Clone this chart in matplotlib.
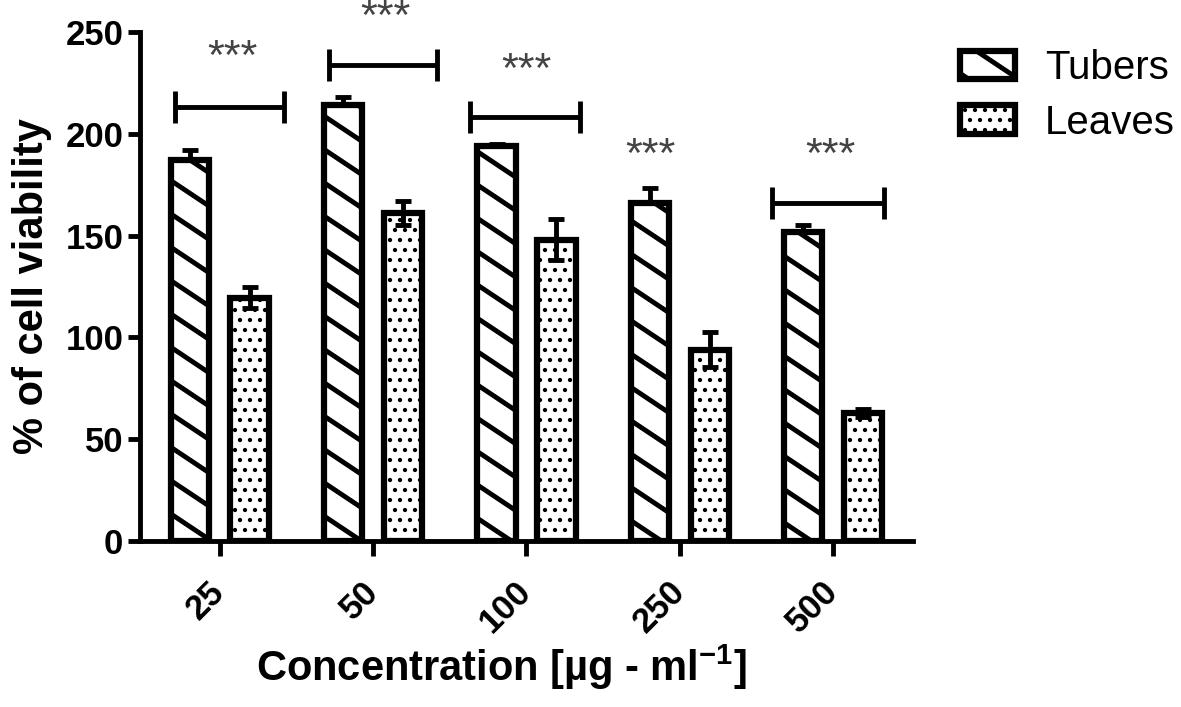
import matplotlib
matplotlib.use('Agg')
import matplotlib.pyplot as plt
import numpy
from matplotlib.backend_bases import GraphicsContextBase
from matplotlib.path import Path

# data
conc = ['25', '50', '100', '250', '500']
tubers = [187, 214, 194, 166, 152]
tubers_err = [5, 4, 1, 7.5, 3]
leaves = [119.5, 161, 148, 94, 63]
leaves_err = [5, 6, 10, 8.5, 2]

# significance brackets (left/right extent relative to group tick) and star heights
sig_bracket_y = [213, 234, 208, None, 166]
sig_left = [0.29, 0.29, 0.37, 0, 0.40]
sig_right = [0.42, 0.42, 0.35, 0, 0.33]
sig_star_y = [237, 257, 231, 189, 189]
sig_star_dx = [0.08, 0.08, 0.0, -0.19, -0.02]


# GraphPad-like sparse stripes: 3 lines per hatch tile, slope -2/3
stripe_verts = []
stripe_codes = []
for c in numpy.arange(-1, 7) / 3.0:
    stripe_verts += [(0.0, c), (1.0, c - 2.0 / 3.0)]
    stripe_codes += [Path.MOVETO, Path.LINETO]
stripe_path = Path(stripe_verts, stripe_codes)


def sparse_hatch(self, density=6.0):
    h = self.get_hatch()
    if h is None:
        return None
    if h == '\\':
        return stripe_path
    return Path.hatch(h, 5.0)


def hatch_lw(self):
    if self._hatch == '\\':
        return 3.5
    return 1.6


GraphicsContextBase.get_hatch_path = sparse_hatch
GraphicsContextBase.get_hatch_linewidth = hatch_lw

plt.rcParams['font.family'] = ['Liberation Sans', 'DejaVu Sans']
plt.rcParams['mathtext.fontset'] = 'custom'
plt.rcParams['mathtext.bf'] = 'Liberation Sans:bold'
plt.rcParams['mathtext.rm'] = 'Liberation Sans:bold'

fig = plt.figure(figsize=(11.81, 7.07), dpi=100)
ax = fig.add_axes([0.1185, 0.2348, 0.6545, 0.72])

x = numpy.arange(len(conc))
w = 0.25
off = 0.195

b1 = ax.bar(x - off, tubers, w, color='white', edgecolor='black', linewidth=4.5,
            hatch='\\', label='Tubers', zorder=2)
b2 = ax.bar(x + off, leaves, w, color='white', edgecolor='black', linewidth=4.5,
            hatch='..', label='Leaves', zorder=2)

ax.errorbar(x - off, tubers, yerr=[numpy.zeros(len(tubers)), tubers_err], fmt='none',
            ecolor='black', elinewidth=3.5, capsize=6, capthick=3.5, zorder=1)
ax.errorbar(x + off, leaves, yerr=leaves_err, fmt='none',
            ecolor='black', elinewidth=3.5, capsize=6, capthick=3.5, zorder=3)

for i in range(len(conc)):
    if sig_bracket_y[i] is not None:
        ax.errorbar(x[i], sig_bracket_y[i], xerr=[[sig_left[i]], [sig_right[i]]], fmt='none',
                    ecolor='black', elinewidth=3.5, capsize=11.5, capthick=3.5, clip_on=False)
    ax.text(x[i] + sig_star_dx[i], sig_star_y[i], '***', ha='center', va='center',
            fontsize=31, color='#444444', clip_on=False)

ax.set_xlim(-0.52, 4.52)
ax.set_ylim(0, 250)
ax.set_yticks([0, 50, 100, 150, 200, 250])
ax.set_xticks(x)
ax.set_xticklabels(conc, rotation=45, ha='right', va='center', rotation_mode='anchor')
for lbl in ax.get_xticklabels():
    lbl.set_fontweight('bold')
for lbl in ax.get_yticklabels():
    lbl.set_fontweight('bold')
ax.tick_params(axis='y', labelsize=25, width=3.5, length=9, pad=3)
ax.tick_params(axis='x', labelsize=25, width=3.5, length=11, pad=22)

ax.spines['top'].set_visible(False)
ax.spines['right'].set_visible(False)
ax.spines['left'].set_linewidth(3.5)
ax.spines['bottom'].set_linewidth(3.5)

ax.set_ylabel('% of cell viability', fontsize=30, fontweight='bold', labelpad=10)
ax.set_xlabel(r'Concentration [µg - ml$^{\mathbf{-1}}$]', fontsize=30, fontweight='bold')
ax.xaxis.set_label_coords(0.468, -0.2)

fig.legend(handles=[b1, b2], loc='upper left', bbox_to_anchor=(0.813, 0.93), frameon=False,
           fontsize=29, handlelength=1.35, handleheight=0.7, handletextpad=0.75,
           labelspacing=0.4, borderpad=0.0, borderaxespad=0.0)

fig.savefig('out.png', dpi=100)
